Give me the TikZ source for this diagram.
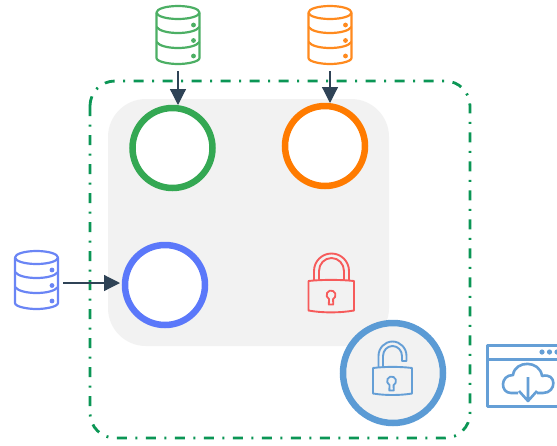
\documentclass[tikz,border=0pt]{standalone}
\usetikzlibrary{arrows.meta}
\definecolor{dgreen}{HTML}{0B9655}
\definecolor{cgreen}{HTML}{34A853}
\definecolor{dbgreen}{HTML}{4CAF64}
\definecolor{corange}{HTML}{FF7B00}
\definecolor{dborange}{HTML}{FF8A1E}
\definecolor{cblue}{HTML}{5B78FA}
\definecolor{dbblue}{HTML}{6A85F5}
\definecolor{csteel}{HTML}{5B9BD5}
\definecolor{lsteel}{HTML}{659FD6}
\definecolor{cred}{HTML}{F65B5B}
\definecolor{cgrey}{HTML}{F2F2F2}
\definecolor{cdark}{HTML}{2F4356}
\tikzset{
  x=1pt,y=-1pt,
  ring/.style={circle,draw=#1,line width=6.5pt,fill=white,minimum size=80pt,inner sep=0pt,outer sep=3pt},
  dbbox/.style={minimum width=45pt,minimum height=60pt,inner sep=0pt,outer sep=6pt},
  link/.style={draw=cdark,line width=1.2pt,-{Triangle[length=16pt,width=16pt]}},
  pics/dbicon/.style={code={
    \begin{scope}[draw=#1,line width=2.2pt,line join=round]
      \draw (0,-22.5) ellipse [x radius=21.5,y radius=6.5];
      \draw (-21.5,-22.5) -- (-21.5,23) .. controls (-21.5,26.5) and (-10,29) .. (0,29) .. controls (10,29) and (21.5,26.5) .. (21.5,23) -- (21.5,-22.5);
      \draw (-21.5,-8) .. controls (-16,0) and (16,0) .. (21.5,-8);
      \draw (-21.5,7) .. controls (-16,15) and (16,15) .. (21.5,7);
      \fill[#1] (15.5,-10) circle (2.4) (15.5,5.5) circle (2.4) (15.5,21) circle (2.4);
    \end{scope}}},
  pics/keyhole/.style={code={
    \draw[#1,line width=1.8pt,line join=round] (-2,4) arc[start angle=117,end angle=423,radius=4.5] -- (2.2,9.5) -- (-2.2,9.5) -- cycle;}},
}
\begin{document}
\begin{tikzpicture}
\useasboundingbox (0,0) rectangle (557,445);
\clip (0,0) rectangle (557,445);
\fill[white] (0,0) rectangle (557,445);
% frames
\draw[dgreen,line width=2.8pt,rounded corners=25pt,dash pattern=on 10pt off 8.5pt on 2pt off 8.5pt] (90,81) rectangle (470,438);
\fill[cgrey,rounded corners=38pt] (108,99) rectangle (389,346);
% rings
\node[ring=cgreen] (cG) at (172.5,148) {};
\node[ring=corange] (cO) at (325,146) {};
\node[ring=cblue] (cB) at (165,285) {};
\node[circle,draw=csteel,line width=6.5pt,fill=cgrey,minimum size=100pt,inner sep=0pt] (cS) at (393,373) {};
% databases
\node[dbbox] (dG) at (178,35) {};
\pic at (dG.center) {dbicon=dbgreen};
\node[dbbox] (dO) at (330,35) {};
\pic at (dO.center) {dbicon=dborange};
\node[dbbox] (dB) at (36.5,280) {};
\pic at (dB.center) {dbicon=dbblue};
% connectors
\draw[link] (dG.south) -- (dG.south |- cG.north);
\draw[link] (dO.south) -- (dO.south |- cO.north);
\draw[link] ([yshift=-3pt,xshift=-2pt]dB.east) -- ([yshift=2pt,xshift=-2pt]cB.west);
% red lock
\begin{scope}[draw=cred,line width=1.9pt,line join=round]
  \draw (308.5,281) .. controls (322,279.5) and (340,279.5) .. (354,281) -- (354,310.5) .. controls (340,313) and (322,313) .. (308.5,310.5) -- cycle;
  \draw (314,280) -- (314,271) arc[start angle=180,end angle=360,x radius=17.5,y radius=17.5] -- (349,280);
  \draw (319,280) -- (319,271) arc[start angle=180,end angle=360,x radius=12.5,y radius=13] -- (344,280);
  \pic at (331,295) {keyhole=cred};
\end{scope}
% open lock
\begin{scope}[draw=lsteel,line width=1.9pt,line join=round]
  \draw (373,368) .. controls (385,366.5) and (400,366.5) .. (412,368) -- (412,393.5) .. controls (400,395.5) and (385,395.5) .. (373,393.5) -- cycle;
  \draw (378.5,367) -- (378.5,356) arc[start angle=180,end angle=360,x radius=14,y radius=14.5] -- (406.5,361) -- (402,361) -- (402,356) arc[start angle=360,end angle=180,x radius=9.5,y radius=10] -- (383,367);
  \pic at (391.5,381) {keyhole=lsteel};
\end{scope}
% download window
\begin{scope}[draw=lsteel,line width=3pt,line join=round]
  \draw (487.5,345.5) rectangle (565,406);
  \draw (487.5,359.5) -- (565,359.5);
  \fill[lsteel] (542,352) circle (2.6) (549.5,352) circle (2.6) (557,352) circle (2.6);
  \draw[line width=2.6pt] (518,393) -- (511,393) .. controls (500,393) and (500,375) .. (513,375) .. controls (515,360) and (540,360) .. (542,376) .. controls (557,372) and (557,393) .. (543,393) -- (537,393);
  \draw[line width=2.6pt] (528,377) -- (528,401) (519,391) -- (528,401) -- (537,391);
\end{scope}
\end{tikzpicture}
\end{document}
